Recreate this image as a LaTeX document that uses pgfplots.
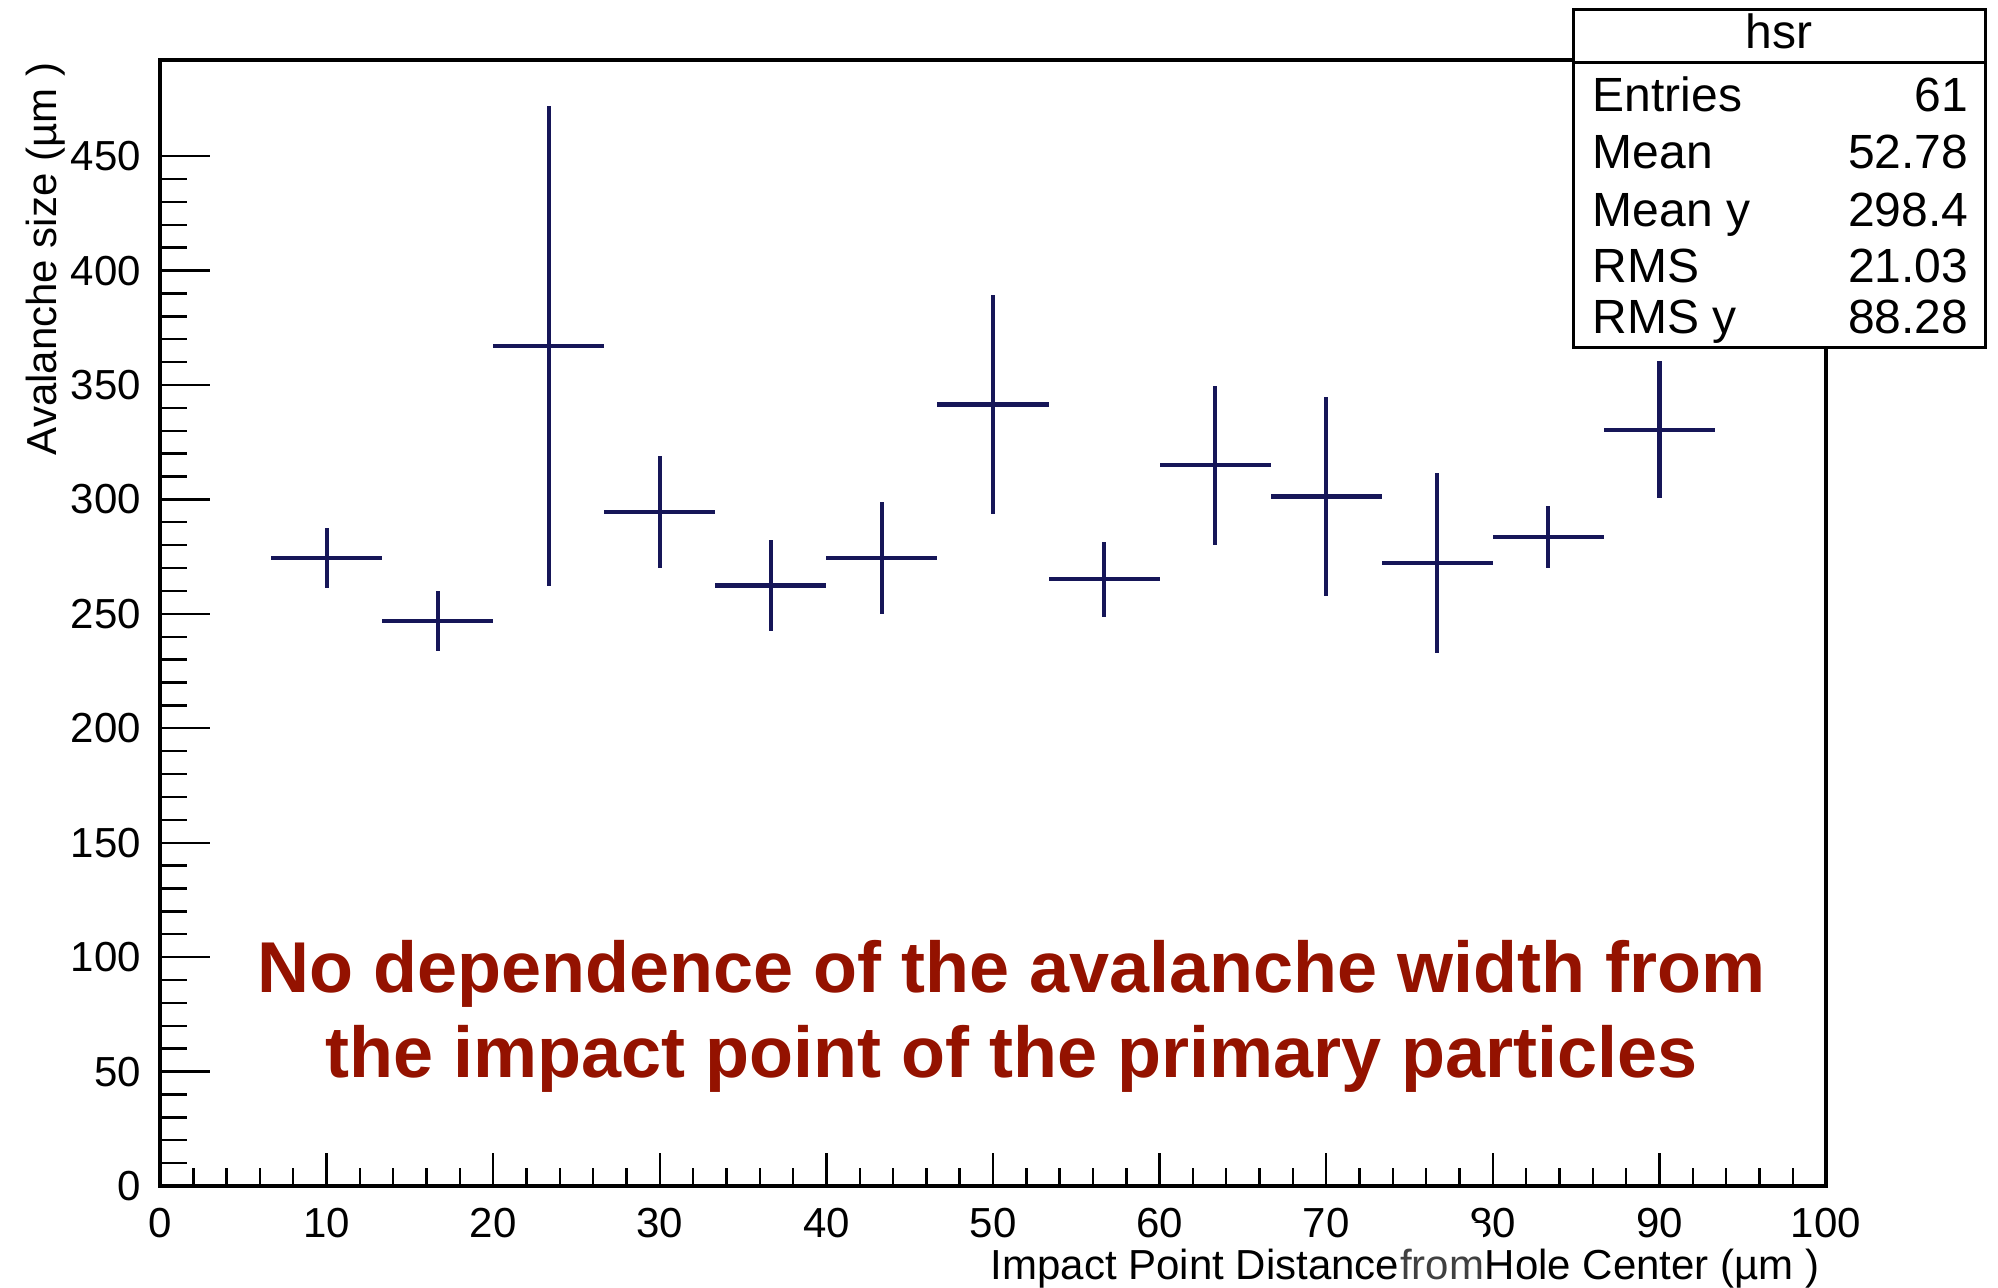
\documentclass[border=0pt]{standalone}
\usepackage{fontspec}
\setmainfont{Liberation Sans}
\usepackage{pgfplots}
\pgfplotsset{compat=1.18}
\definecolor{barcol}{RGB}{22,22,88}
\definecolor{redtxt}{RGB}{148,18,0}
\definecolor{fromgray}{RGB}{64,64,64}
\begin{document}
\begin{tikzpicture}[x=0.25pt,y=0.25pt]
\path[use as bounding box] (0,0) rectangle (1998,1287);
\pgfplotsset{common/.style={at={(40pt,25.25pt)}, anchor=south west, scale only axis,
  width=416.5pt, height=281.5pt, xmin=0, xmax=100, ymin=0, ymax=492,
  tick align=inside, axis line style={line width=0.8pt},
  tick style={line width=0.6pt, black},
  /pgf/number format/assume math mode=true,
  tick label style={font=\fontsize{10.5}{12}\selectfont}}}
\begin{axis}[common, xtick={0,10,...,100}, minor x tick num=4, xtick pos=left,
  ytick=\empty, major tick length=8.25pt, minor tick length=4.5pt,
  xticklabel style={yshift=-2pt}]
\addplot[draw=none, mark=none,
  error bars/.cd, x dir=both, x explicit, y dir=both, y explicit,
  error mark=none, error bar style={line width=1.05pt, draw=barcol}]
  table[x=x, y=y, x error=ex, y error=ey] {
x y ex ey
10 274.5 3.333 13
16.667 246.8 3.333 13
23.333 367 3.333 105
30 294.5 3.333 24.5
36.667 262.4 3.333 19.7
43.333 274.3 3.333 24.4
50 341.5 3.333 48
56.667 265.1 3.333 16.3
63.333 314.9 3.333 34.8
70 301.3 3.333 43.6
76.667 272.2 3.333 39.3
83.333 283.6 3.333 13.5
90 330.5 3.333 30
};
\end{axis}
\begin{axis}[common, xtick=\empty, ytick={0,50,...,450}, minor y tick num=4, ytick pos=left,
  major tick length=12.5pt, minor tick length=6.75pt,
  yticklabel style={xshift=-1.25pt}, axis line style={draw=none}]
\end{axis}
% y label
\node[rotate=90, anchor=base east, inner sep=0pt, font=\fontsize{10.5}{12}\selectfont] at (56,1225) {Avalanche size (µm )};
% x label
\node[anchor=base east, inner sep=0pt, font=\fontsize{10.5}{12}\selectfont] at (1400,8) {Impact Point Distance};
\fill[white] (1401,0) rectangle (1483,64);
\node[anchor=base, inner sep=0pt, text=fromgray, font=\fontsize{10.5}{12}\selectfont] at (1442,8) {from};
\node[anchor=base west, inner sep=0pt, font=\fontsize{10.5}{12}\selectfont] at (1484,8) {Hole Center (µm )};
% annotation
\node[anchor=base, inner sep=0pt, text=redtxt, font=\fontsize{18}{21}\selectfont\bfseries] at (1011.5,295) {No dependence of the avalanche width from};
\node[anchor=base, inner sep=0pt, text=redtxt, font=\fontsize{18}{21}\selectfont\bfseries] at (1011.5,210) {the impact point of the primary particles};
% stats box
\draw[line width=0.75pt, fill=white] (1573,939) rectangle (1985,1277);
\draw[line width=0.75pt] (1573,1224) -- (1985,1224);
\begin{scope}[every node/.style={inner sep=0pt, font=\fontsize{12}{14}\selectfont}]
\node[anchor=base] at (1779,1238) {hsr};
\node[anchor=base west] at (1592,1175.5) {Entries};
\node[anchor=base east] at (1969,1175.5) {61};
\node[anchor=base west] at (1592,1118.5) {Mean};
\node[anchor=base east] at (1969,1118.5) {52.78};
\node[anchor=base west] at (1592,1060.5) {Mean y};
\node[anchor=base east] at (1969,1060.5) {298.4};
\node[anchor=base west] at (1592,1004.5) {RMS};
\node[anchor=base east] at (1969,1004.5) {21.03};
\node[anchor=base west] at (1592,953.5) {RMS y};
\node[anchor=base east] at (1969,953.5) {88.28};
\end{scope}
\end{tikzpicture}
\end{document}
